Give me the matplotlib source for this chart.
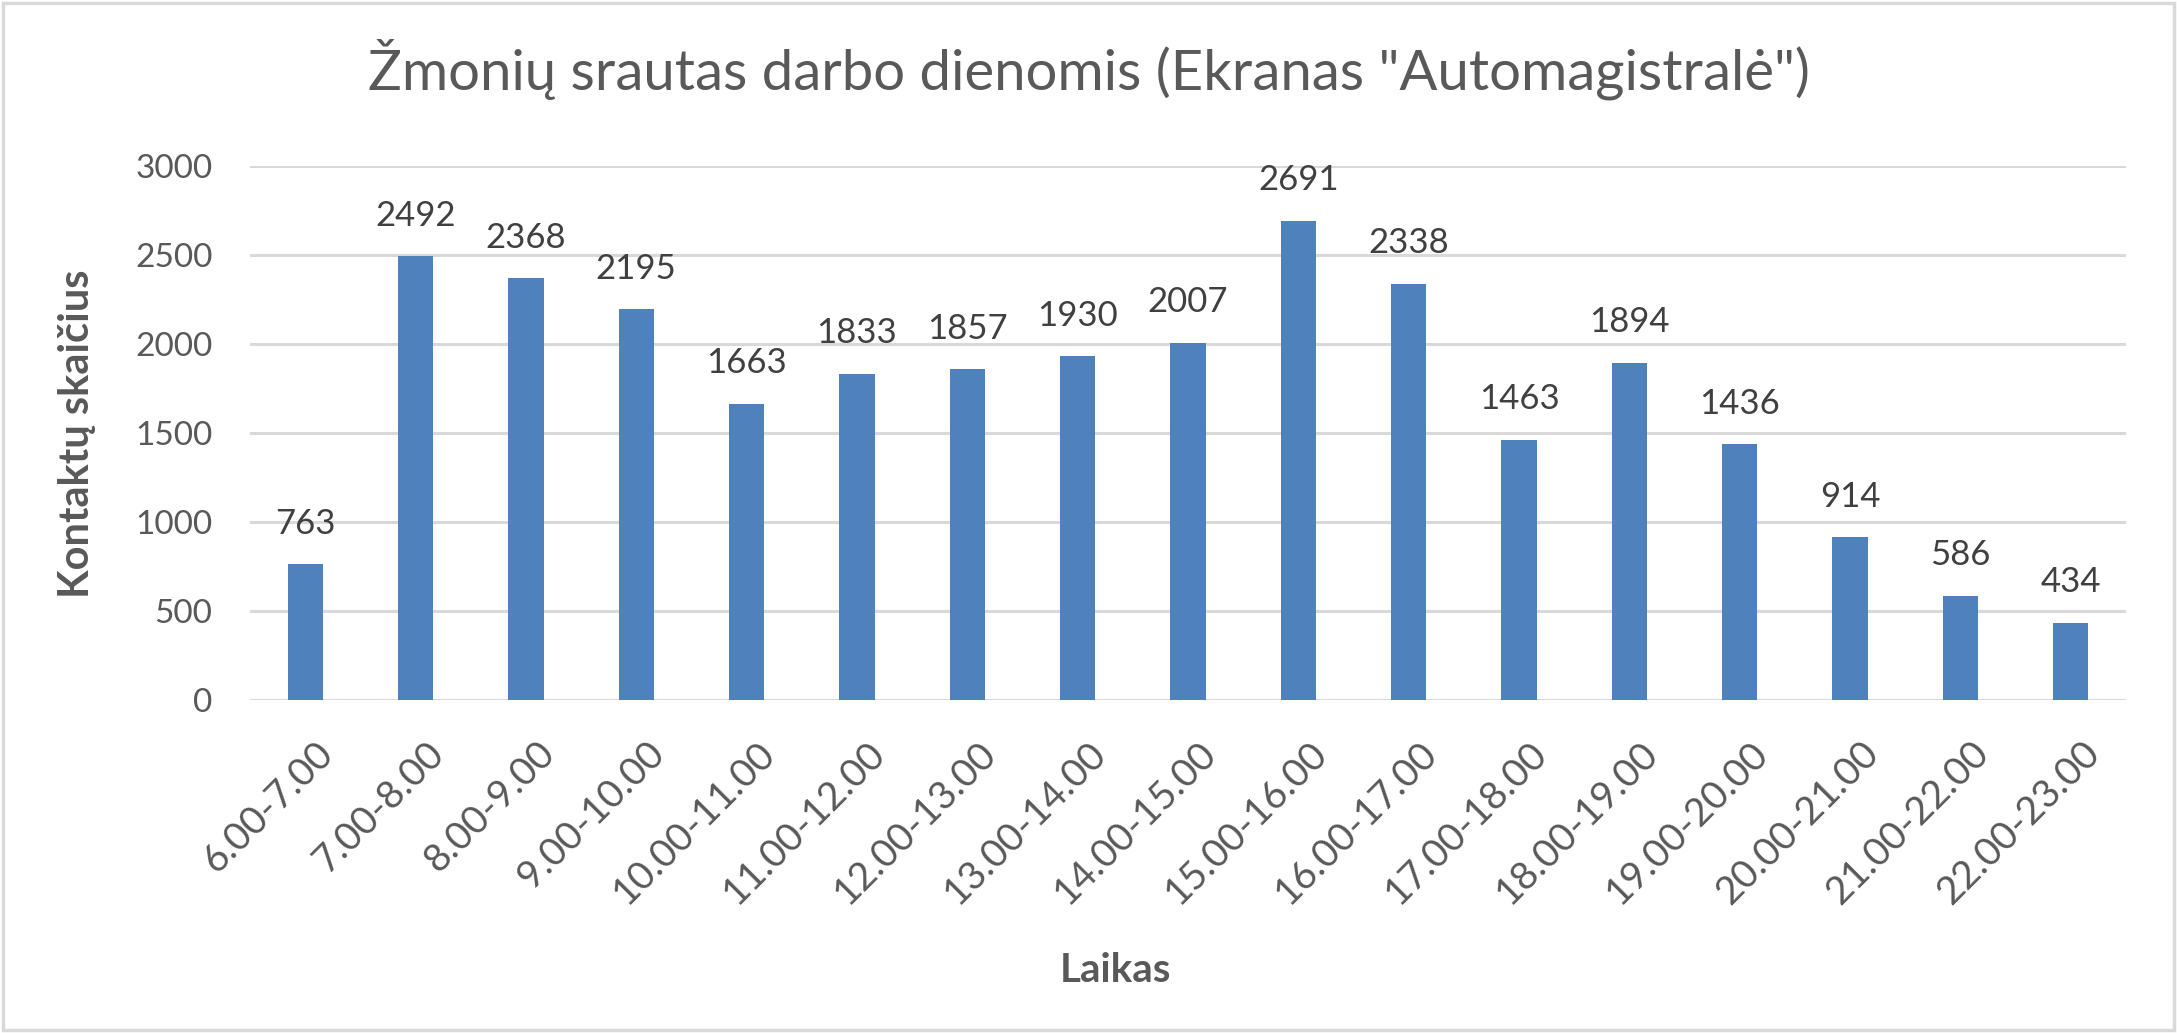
import matplotlib
matplotlib.use('Agg')
import matplotlib.pyplot as plt
from matplotlib.patches import Rectangle
from matplotlib.transforms import ScaledTranslation

# data
laikas = ['6.00-7.00', '7.00-8.00', '8.00-9.00', '9.00-10.00', '10.00-11.00',
          '11.00-12.00', '12.00-13.00', '13.00-14.00', '14.00-15.00', '15.00-16.00',
          '16.00-17.00', '17.00-18.00', '18.00-19.00', '19.00-20.00', '20.00-21.00',
          '21.00-22.00', '22.00-23.00']
kontaktai = [763, 2492, 2368, 2195, 1663, 1833, 1857, 1930, 2007, 2691,
             2338, 1463, 1894, 1436, 914, 586, 434]
y_ticks = [0, 500, 1000, 1500, 2000, 2500, 3000]

plt.rcParams['font.family'] = ['Lato', 'DejaVu Sans']

fig = plt.figure(figsize=(21.77, 10.33), dpi=100)
ax = fig.add_axes([250 / 2177, 1 - 700 / 1033, (2126 - 250) / 2177, (700 - 166) / 1033])

x = list(range(len(laikas)))
ax.bar(x, kontaktai, width=0.32, color='#4F81BD', zorder=3)

for xi, v in zip(x, kontaktai):
    ax.annotate(str(v), (xi, v), xytext=(0, 22), textcoords='offset points',
                ha='center', va='baseline', fontsize=25, color='#404040')

ax.set_xlim(-0.5, len(laikas) - 0.5)
ax.set_ylim(0, 3000)
ax.set_yticks(y_ticks)
ax.grid(axis='y', color='#D9D9D9', linewidth=2.2, zorder=0)
ax.tick_params(axis='y', length=0, pad=27, labelsize=24, labelcolor='#595959')
ax.tick_params(axis='x', length=0, pad=25, labelsize=28, labelcolor='#595959')
for s in ax.spines.values():
    s.set_visible(False)

ax.set_xticks(x)
ax.set_xticklabels(laikas, rotation=45, ha='right', rotation_mode='anchor')
for lab in ax.get_xticklabels():
    lab.set_transform(lab.get_transform() + ScaledTranslation(0.10, 0, fig.dpi_scale_trans))

fig.text(0.5, 1 - 69 / 1033, 'Žmonių srautas darbo dienomis (Ekranas "Automagistralė")',
         ha='center', va='center', fontsize=40.5, color='#595959')
fig.text(1115 / 2177, 1 - 971 / 1033, 'Laikas', ha='center', va='center',
         fontsize=29, fontweight='bold', color='#595959')
fig.text(77 / 2177, 1 - 434 / 1033, 'Kontaktų skaičius', ha='center', va='center',
         rotation=90, fontsize=30, fontweight='bold', color='#595959')

# light grey frame round the chart
fig.patches.append(Rectangle((0.0015, 0.003), 0.997, 0.994, transform=fig.transFigure,
                             fill=False, edgecolor='#D9D9D9', linewidth=2.5))

fig.savefig('out.png', dpi=100, facecolor='white')
